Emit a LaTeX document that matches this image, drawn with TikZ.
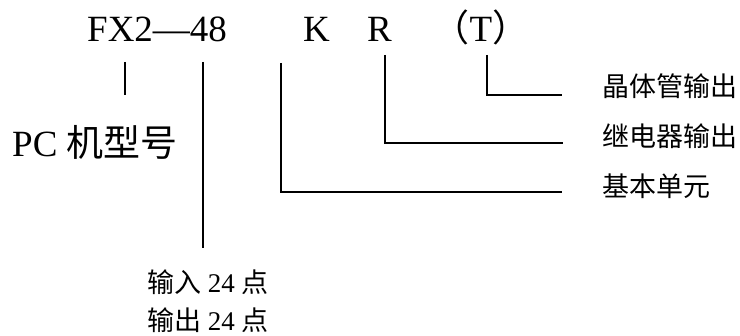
\documentclass[tikz,border=0pt]{standalone}
\usepackage{fontspec}
\setmainfont{Liberation Serif}
\newfontfamily\cjk{Noto Sans CJK SC}
\begin{document}
\begin{tikzpicture}[x=1pt,y=1pt,
  big/.style={inner sep=0pt,font=\fontsize{37}{40}\selectfont},
  small/.style={inner sep=0pt,font=\fontsize{27}{30}\selectfont},
  lead/.style={line width=1.7pt}]
\useasboundingbox (0,0) rectangle (740,-336);
% top code
\node[big,anchor=base west] (code) at (87,-42) {FX2—48};
\node[big,anchor=base west] (k) at (303,-42) {K};
\node[big,anchor=base west] (r) at (367,-42) {R};
\node[big,anchor=base] (t) at (481,-42) {{\cjk （}T{\cjk ）}};
% labels
\node[big,anchor=base west] (pc) at (12,-157) {PC {\cjk 机型号}};
\node[small,anchor=base west] (tr) at (602,-97) {\cjk 晶体管输出};
\node[small,anchor=base west] (rl) at (602,-147) {\cjk 继电器输出};
\node[small,anchor=base west] (bu) at (602,-197) {\cjk 基本单元};
\node[small,anchor=base west] (io1) at (147,-293) {{\cjk 输入} 24 {\cjk 点}};
\node[small,anchor=base west] (io2) at (147,-331) {{\cjk 输出} 24 {\cjk 点}};
% leader coordinates
\coordinate (a1) at (125,-62);  \coordinate (a2) at (125,-95);
\coordinate (b1) at (203,-62);  \coordinate (b2) at (203,-248);
\coordinate (k1) at (281,-63);  \coordinate (k2) at (562,-192);
\coordinate (r1) at (385,-55);  \coordinate (r2) at (563,-143);
\coordinate (t1) at (487,-55);  \coordinate (t2) at (562,-95);
\draw[lead] (a1) -- (a2);
\draw[lead] (b1) -- (b2);
\draw[lead] (k1) |- (k2);
\draw[lead] (r1) |- (r2);
\draw[lead] (t1) |- (t2);
\end{tikzpicture}
\end{document}
